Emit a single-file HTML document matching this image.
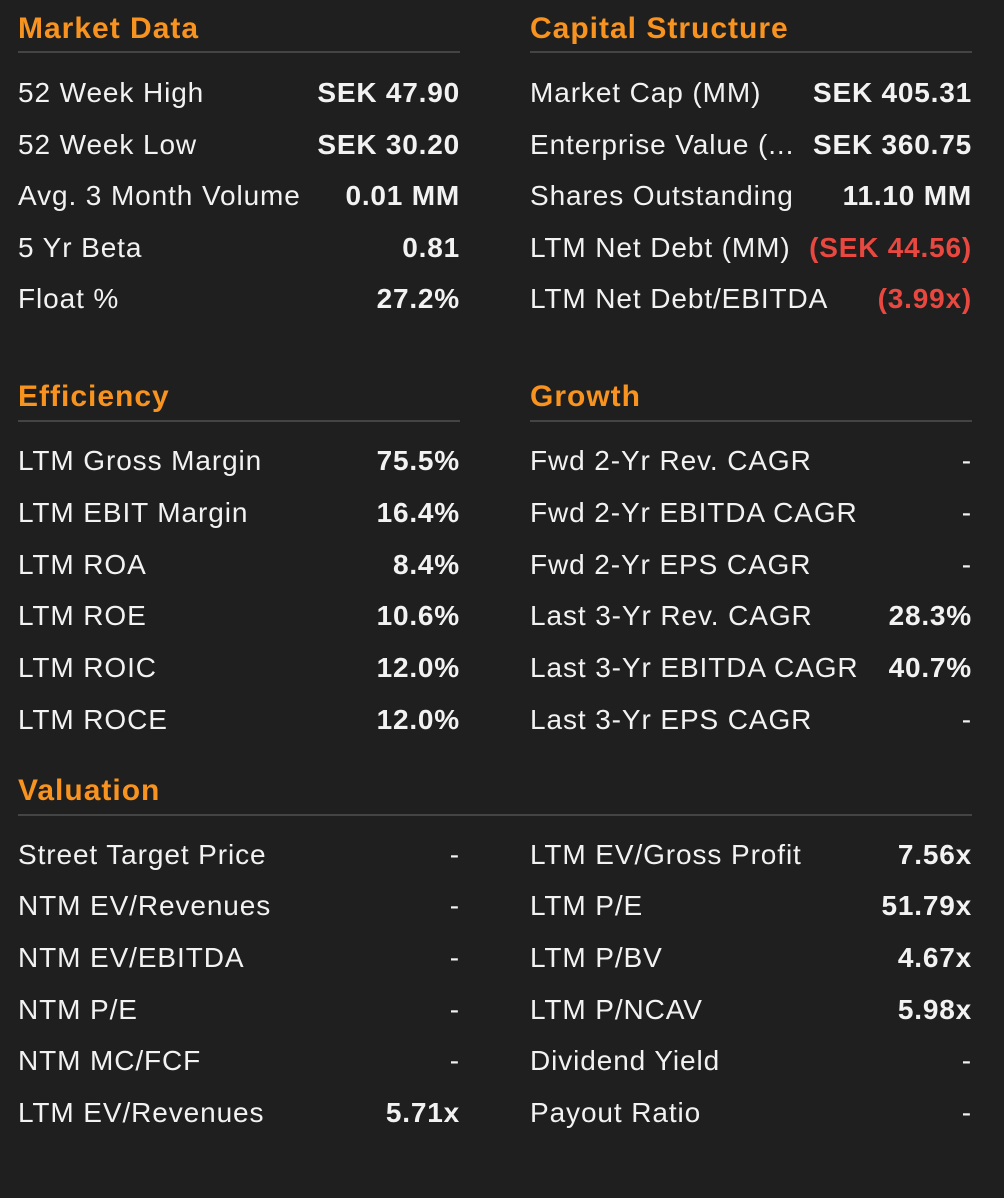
<!DOCTYPE html>
<html><head><meta charset="utf-8"><style>
body{margin:0;background:#1f1f1f;width:1004px;height:1198px;overflow:hidden;font-family:"Liberation Sans",sans-serif;color:#f2f2f2;position:relative}
.h{position:absolute;color:#f7931e;font-weight:bold;font-size:30px;letter-spacing:1px;line-height:36px;height:36px}
.ln{position:absolute;height:2px;background:#444}
.r{position:absolute;height:34px;line-height:34px;font-size:28px;letter-spacing:0.9px;width:442px;display:flex;justify-content:space-between;white-space:nowrap}
.r b{font-weight:bold;letter-spacing:0.8px}
.red{color:#e8483f}
</style></head><body>
<div class="h" style="left:18px;top:11px">Market Data</div><div class="ln" style="left:18px;top:51px;width:442px"></div>
<div class="h" style="left:530px;top:11px">Capital Structure</div><div class="ln" style="left:530px;top:51px;width:442px"></div>
<div class="r" style="left:18px;top:76px"><span>52 Week High</span><b>SEK 47.90</b></div>
<div class="r" style="left:18px;top:128px"><span>52 Week Low</span><b>SEK 30.20</b></div>
<div class="r" style="left:18px;top:179px"><span>Avg. 3 Month Volume</span><b>0.01 MM</b></div>
<div class="r" style="left:18px;top:231px"><span>5 Yr Beta</span><b>0.81</b></div>
<div class="r" style="left:18px;top:282px"><span>Float %</span><b>27.2%</b></div>
<div class="r" style="left:530px;top:76px"><span>Market Cap (MM)</span><b>SEK 405.31</b></div>
<div class="r" style="left:530px;top:128px"><span>Enterprise Value (...</span><b>SEK 360.75</b></div>
<div class="r" style="left:530px;top:179px"><span>Shares Outstanding</span><b>11.10 MM</b></div>
<div class="r" style="left:530px;top:231px"><span>LTM Net Debt (MM)</span><b class="red">(SEK 44.56)</b></div>
<div class="r" style="left:530px;top:282px"><span>LTM Net Debt/EBITDA</span><b class="red">(3.99x)</b></div>

<div class="h" style="left:18px;top:379px">Efficiency</div><div class="ln" style="left:18px;top:420px;width:442px"></div>
<div class="h" style="left:530px;top:379px">Growth</div><div class="ln" style="left:530px;top:420px;width:442px"></div>
<div class="r" style="left:18px;top:444px"><span>LTM Gross Margin</span><b>75.5%</b></div>
<div class="r" style="left:18px;top:496px"><span>LTM EBIT Margin</span><b>16.4%</b></div>
<div class="r" style="left:18px;top:548px"><span>LTM ROA</span><b>8.4%</b></div>
<div class="r" style="left:18px;top:599px"><span>LTM ROE</span><b>10.6%</b></div>
<div class="r" style="left:18px;top:651px"><span>LTM ROIC</span><b>12.0%</b></div>
<div class="r" style="left:18px;top:703px"><span>LTM ROCE</span><b>12.0%</b></div>
<div class="r" style="left:530px;top:444px"><span>Fwd 2-Yr Rev. CAGR</span><span>-</span></div>
<div class="r" style="left:530px;top:496px"><span>Fwd 2-Yr EBITDA CAGR</span><span>-</span></div>
<div class="r" style="left:530px;top:548px"><span>Fwd 2-Yr EPS CAGR</span><span>-</span></div>
<div class="r" style="left:530px;top:599px"><span>Last 3-Yr Rev. CAGR</span><b>28.3%</b></div>
<div class="r" style="left:530px;top:651px"><span>Last 3-Yr EBITDA CAGR</span><b>40.7%</b></div>
<div class="r" style="left:530px;top:703px"><span>Last 3-Yr EPS CAGR</span><span>-</span></div>

<div class="h" style="left:18px;top:773px">Valuation</div><div class="ln" style="left:18px;top:814px;width:954px"></div>
<div class="r" style="left:18px;top:838px"><span>Street Target Price</span><span>-</span></div>
<div class="r" style="left:18px;top:889px"><span>NTM EV/Revenues</span><span>-</span></div>
<div class="r" style="left:18px;top:941px"><span>NTM EV/EBITDA</span><span>-</span></div>
<div class="r" style="left:18px;top:993px"><span>NTM P/E</span><span>-</span></div>
<div class="r" style="left:18px;top:1044px"><span>NTM MC/FCF</span><span>-</span></div>
<div class="r" style="left:18px;top:1096px"><span>LTM EV/Revenues</span><b>5.71x</b></div>
<div class="r" style="left:530px;top:838px"><span>LTM EV/Gross Profit</span><b>7.56x</b></div>
<div class="r" style="left:530px;top:889px"><span>LTM P/E</span><b>51.79x</b></div>
<div class="r" style="left:530px;top:941px"><span>LTM P/BV</span><b>4.67x</b></div>
<div class="r" style="left:530px;top:993px"><span>LTM P/NCAV</span><b>5.98x</b></div>
<div class="r" style="left:530px;top:1044px"><span>Dividend Yield</span><span>-</span></div>
<div class="r" style="left:530px;top:1096px"><span>Payout Ratio</span><span>-</span></div>
</body></html>
